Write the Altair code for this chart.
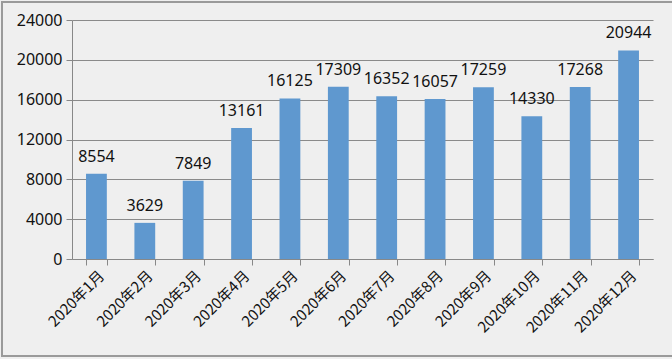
import altair as alt
import pandas as pd

months = ["2020年1月", "2020年2月", "2020年3月", "2020年4月", "2020年5月", "2020年6月",
          "2020年7月", "2020年8月", "2020年9月", "2020年10月", "2020年11月", "2020年12月"]
values = [8554, 3629, 7849, 13161, 16125, 17309, 16352, 16057, 17259, 14330, 17268, 20944]
y_ticks = [0, 4000, 8000, 12000, 16000, 20000, 24000]

df = pd.DataFrame({"month": months, "value": values})

x_enc = alt.X("month:N", sort=months, title=None,
              scale=alt.Scale(paddingInner=0.57, paddingOuter=0.29),
              axis=alt.Axis(labelAngle=-45, labelFont="Noto Sans CJK SC", labelFontSize=15,
                            labelColor="#111111", tickBand="extent", tickSize=6,
                            tickColor="#888888", domainColor="#888888", labelPadding=3))
y_enc = alt.Y("value:Q", title=None,
              scale=alt.Scale(domain=[0, 24000], nice=False),
              axis=alt.Axis(values=y_ticks, format="d", labelFont="Noto Sans", labelFontSize=16,
                            labelOverlap=False, labelColor="#111111", tickSize=6,
                            tickColor="#888888", domainColor="#888888", gridColor="#8a8a8a",
                            labelPadding=4))

bars = alt.Chart(df).mark_bar(color="#5f98cf").encode(x=x_enc, y=y_enc)
labels = alt.Chart(df).mark_text(dy=-17, fontSize=16, font="Noto Sans", color="#111111").encode(
    x=x_enc, y=y_enc, text="value:Q")
border = alt.Chart(pd.DataFrame({"a": [0]})).mark_rect(
    fill=None, stroke="#9a9a9a", strokeWidth=2).encode(
    x=alt.value(-70), x2=alt.value(650), y=alt.value(-18), y2=alt.value(336))

chart = alt.layer(bars, labels, border).properties(
    width=581, height=239,
    padding={"left": 72, "top": 20, "right": 19, "bottom": 100},
    autosize=alt.AutoSizeParams(type="none"),
    background="#efefef",
).configure_view(stroke=None)

chart.save("out.html", embed_options={"renderer": "svg", "actions": False})
